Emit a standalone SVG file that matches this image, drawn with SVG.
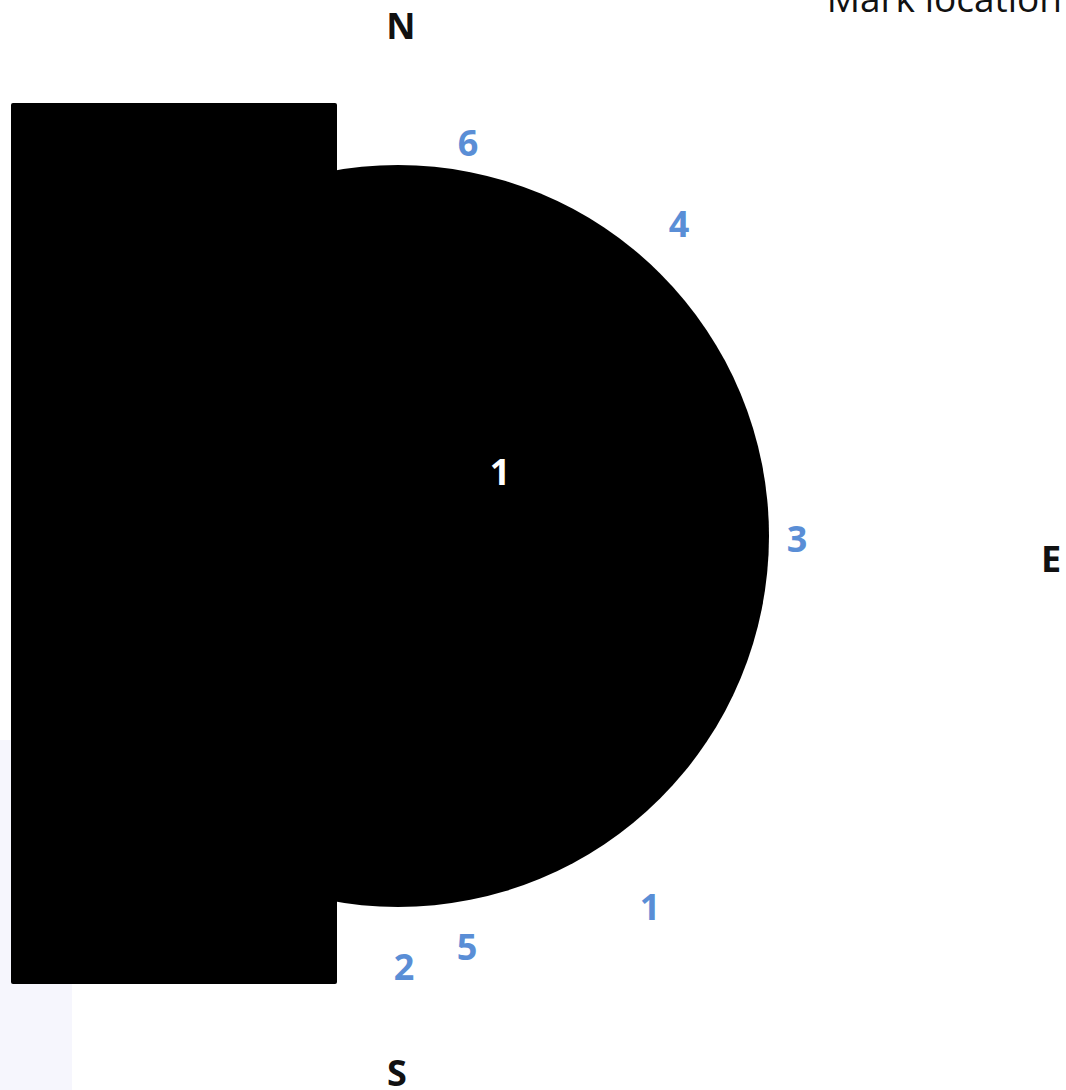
<svg xmlns="http://www.w3.org/2000/svg" width="1066" height="1090" viewBox="0 0 1066 1090">
<style>
.lbl{font-family:"Open Sans","Liberation Sans",sans-serif;font-weight:bold;font-size:36px;text-anchor:middle}
.blue{fill:#5A8ED6}
.dark{fill:#111}
.white{fill:#fff}
</style>
<rect width="1066" height="1090" fill="#fff"/>
<rect x="0" y="740" width="72" height="350" fill="#f6f6fd"/>
<g id="shape">
<circle cx="398" cy="536" r="371" fill="#000"/>
<rect x="11" y="103" width="326" height="881" rx="2" fill="#000"/>
</g>
<g id="connectors"></g>
<g id="labels">
<text x="1062" y="12" font-family="'Open Sans','Liberation Sans',sans-serif" font-size="37" text-anchor="end" fill="#111">Mark location</text>
<text class="lbl dark" x="401" y="39">N</text>
<text class="lbl dark" x="397" y="1086">S</text>
<text class="lbl dark" x="1051" y="572">E</text>
<text class="lbl white" x="500" y="485">1</text>
<text class="lbl blue" x="468" y="156">6</text>
<text class="lbl blue" x="679" y="237">4</text>
<text class="lbl blue" x="797" y="552">3</text>
<text class="lbl blue" x="650" y="920">1</text>
<text class="lbl blue" x="467" y="960">5</text>
<text class="lbl blue" x="404" y="980">2</text>
</g>
</svg>
